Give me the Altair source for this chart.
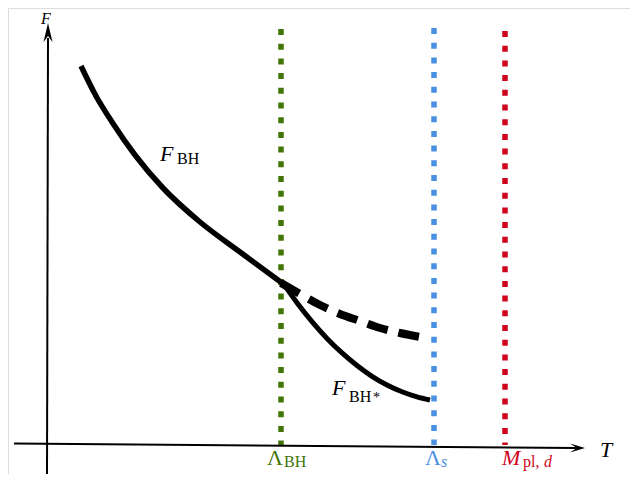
import altair as alt
import pandas as pd

# Units: T = horizontal position along the temperature axis, F = free energy (arbitrary units)
main_T = [34, 49, 65, 88, 116, 153, 193, 235]
main_F = [379, 349, 323, 290, 257, 223, 193, 162]

star_T = [236, 250, 265, 280, 295, 310, 325, 340, 355, 370, 383]
star_F = [162, 142.3, 123.4, 106.6, 92.1, 79.5, 68.7, 60, 53.2, 48.1, 45]

dash_T = [234, 253, 273, 293, 313, 333, 353, 379]
dash_F = [162, 151, 140, 131, 124, 117, 112, 107]

scale_names = ["LBH", "Ls", "Mpl"]
scale_T = [234, 387, 458]
scale_top = [416, 417, 414]
scale_bottom = [0, 0, 0]
scale_colors = ["#417505", "#4A90E2", "#D0021B"]

# axis lines (start / end)
axis_T = [-33, 0]
axis_F = [1.5, -32]
axis_T2 = [530, 1]
axis_F2 = [-3, 407]

# labels
lab_text = ["F", "F", "BH", "F", "BH", "*", "Λ", "BH", "Λ", "s", "M", "pl,", "d", "T"]
lab_T = [-6, 113, 130, 285, 302, 326, 220, 237, 378, 394, 455, 476, 497, 553]
lab_F = [421, 284, 281, 50, 43, 43, -20, -22, -20, -22, -20, -22, -22, -12]
lab_size = [16, 22, 16, 22, 16, 14, 22, 16, 22, 16, 22, 16, 16, 22]
lab_style = ["italic", "italic", "normal", "italic", "normal", "normal", "normal",
             "normal", "normal", "italic", "italic", "normal", "italic", "italic"]
lab_color = ["#000000", "#000000", "#000000", "#000000", "#000000", "#000000",
             "#417505", "#417505", "#4A90E2", "#4A90E2", "#D0021B", "#D0021B",
             "#D0021B", "#000000"]

xs = alt.Scale(domain=[-39, 583])
ys = alt.Scale(domain=[-29, 437])
X = lambda f: alt.X(f, type="quantitative", scale=xs, axis=None)
Y = lambda f: alt.Y(f, type="quantitative", scale=ys, axis=None)

main_df = pd.DataFrame({"T": main_T, "F": main_F})
star_df = pd.DataFrame({"T": star_T, "F": star_F})
dash_df = pd.DataFrame({"T": dash_T, "F": dash_F})
scale_df = pd.DataFrame({"name": scale_names, "T": scale_T, "top": scale_top,
                         "bottom": scale_bottom, "color": scale_colors})
axis_df = pd.DataFrame({"T": axis_T, "F": axis_F, "T2": axis_T2, "F2": axis_F2})
lab_df = pd.DataFrame({"text": lab_text, "T": lab_T, "F": lab_F, "size": lab_size,
                       "style": lab_style, "color": lab_color})

rules = alt.Chart(scale_df).mark_rule(strokeWidth=5.5, strokeDash=[6, 8.7]).encode(
    x=X("T"), y=Y("top"), y2="bottom", color=alt.Color("color:N", scale=None))

axes = alt.Chart(axis_df).mark_rule(strokeWidth=2, color="black").encode(
    x=X("T"), y=Y("F"), x2="T2", y2="F2")

arrow_x = alt.Chart(pd.DataFrame({"T": [528], "F": [-3]})).mark_point(
    shape="M0,-1L0.45,0.5L0,-0.2L-0.45,0.5Z", filled=True, opacity=1,
    color="black", size=400, angle=90, strokeWidth=0).encode(x=X("T"), y=Y("F"))
arrow_y = alt.Chart(pd.DataFrame({"T": [1], "F": [412]})).mark_point(
    shape="M0,-1L0.45,0.9L0,0.3L-0.45,0.9Z", filled=True, opacity=1,
    color="black", size=400, strokeWidth=0).encode(x=X("T"), y=Y("F"))

main = alt.Chart(main_df).mark_line(color="black", strokeWidth=5.5, interpolate="monotone",
                                    strokeCap="butt").encode(x=X("T"), y=Y("F"))
star = alt.Chart(star_df).mark_line(color="black", strokeWidth=5, interpolate="monotone",
                                    strokeCap="butt").encode(x=X("T"), y=Y("F"))
dash = alt.Chart(dash_df).mark_line(color="black", strokeWidth=8, interpolate="monotone",
                                    strokeCap="butt", strokeDash=[21, 11]).encode(x=X("T"), y=Y("F"))

def labels(style):
    return alt.Chart(lab_df).transform_filter(alt.datum.style == style).mark_text(
        font="Liberation Serif", fontStyle=style, align="left", baseline="alphabetic").encode(
        x=X("T"), y=Y("F"), text="text:N",
        size=alt.Size("size:Q", scale=None), color=alt.Color("color:N", scale=None))

chart = alt.layer(rules, axes, arrow_x, arrow_y, main, star, dash,
                  labels("italic"), labels("normal")).properties(
    width=622, height=466, autosize=alt.AutoSizeParams(type="none"), padding=0
).configure_view(stroke=None).configure(background="white")

chart.save("out.html", embed_options={"renderer": "svg", "actions": False})
